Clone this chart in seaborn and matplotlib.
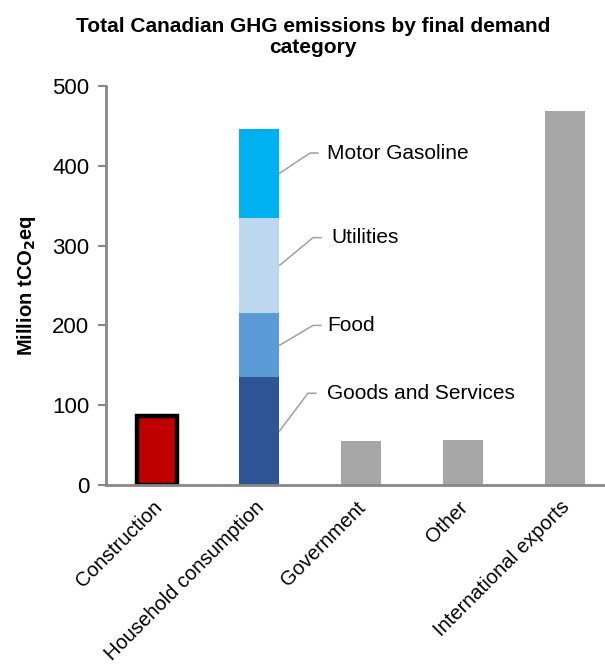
import matplotlib
matplotlib.use("Agg")
import matplotlib.pyplot as plt
import matplotlib.transforms as mtransforms
import seaborn as sns
import pandas as pd

# ---- data ----
categories = ["Construction", "Household consumption", "Government", "Other", "International exports"]
single_values = [87, None, 55, 57, 469]
household_parts = ["Goods and Services", "Food", "Utilities", "Motor Gasoline"]
household_values = [135, 80, 120, 111]
y_ticks = [0, 100, 200, 300, 400, 500]

# ---- styling ----
sns.set_theme(style="white")
plt.rcParams["font.family"] = ["Liberation Sans", "DejaVu Sans"]
plt.rcParams["text.color"] = "black"
plt.rcParams["xtick.color"] = "black"
plt.rcParams["ytick.color"] = "black"
plt.rcParams["axes.labelcolor"] = "black"

red = "#C00000"
gray = "#A6A6A6"
part_colors = ["#2F5597", "#5B9BD5", "#BDD7EE", "#00B0F0"]
axis_gray = "#878787"

W, H = 605, 665
fig = plt.figure(figsize=(W / 100, H / 100), dpi=100)
ax = fig.add_axes([106 / W, 1 - 485 / H, 510 / W, 399 / H])

bar_w = 0.4

# construction
sns.barplot(x=[categories[0]], y=[single_values[0]], order=categories, color=red,
            width=bar_w, edgecolor="black", linewidth=3.2, ax=ax, zorder=2, saturation=1)
# gray bars
gray_cats = [c for c, v in zip(categories, single_values) if v is not None and c != categories[0]]
gray_vals = [v for c, v in zip(categories, single_values) if v is not None and c != categories[0]]
sns.barplot(x=gray_cats, y=gray_vals, order=categories, color=gray, width=bar_w,
            linewidth=0, ax=ax, zorder=2, saturation=1)

# stacked household consumption: draw cumulative totals, largest first
cum = []
s = 0
for v in household_values:
    s += v
    cum.append(s)
for i in reversed(range(len(household_values))):
    sns.barplot(x=[categories[1]], y=[cum[i]], order=categories, color=part_colors[i],
                width=bar_w, linewidth=0, ax=ax, zorder=2, saturation=1)

ax.set_xlim(-0.5, 4.5)
ax.set_ylim(0, 500)
ax.set_yticks(y_ticks)
ax.set_yticklabels([str(t) for t in y_ticks], fontsize=16)
ax.set_xticks(range(len(categories)))
ax.set_xticklabels(categories, rotation=45, ha="right", rotation_mode="anchor", fontsize=14.5)
ax.tick_params(axis="x", length=0, pad=9)
ax.tick_params(axis="y", length=6, width=1.5, color=axis_gray, direction="out", pad=6, left=True)
ax.set_xlabel("")
ax.set_ylabel("Million tCO$_\\mathbf{2}$eq", fontsize=14.5, fontweight="bold", labelpad=10)

shift = mtransforms.ScaledTranslation(-5 / 100, 0, fig.dpi_scale_trans)
for lab in ax.get_xticklabels():
    lab.set_transform(lab.get_transform() + shift)

for side in ["top", "right"]:
    ax.spines[side].set_visible(False)
for side in ["left", "bottom"]:
    ax.spines[side].set_color(axis_gray)
    ax.spines[side].set_linewidth(2)
    ax.spines[side].set_zorder(3)

# annotations
label_y = [115, 200, 310, 416]
elbow_x = [1.48, 1.53, 1.53, 1.50]
text_x = [1.667, 1.667, 1.706, 1.667]
bottoms = [0] + cum[:-1]
for i, name in enumerate(household_parts):
    mid = bottoms[i] + household_values[i] / 2
    ax.plot([1 + bar_w / 2, elbow_x[i], elbow_x[i] + 0.08], [mid, label_y[i], label_y[i]],
            color="#A0A0A0", lw=1.1, zorder=4, clip_on=False)
    ax.text(text_x[i], label_y[i], name, fontsize=15, va="center", ha="left")

fig.text(313 / W, 1 - 37 / H, "Total Canadian GHG emissions by final demand\ncategory",
         ha="center", va="center", fontsize=15, fontweight="bold", linespacing=1.15)

fig.savefig("out.png", dpi=100)
